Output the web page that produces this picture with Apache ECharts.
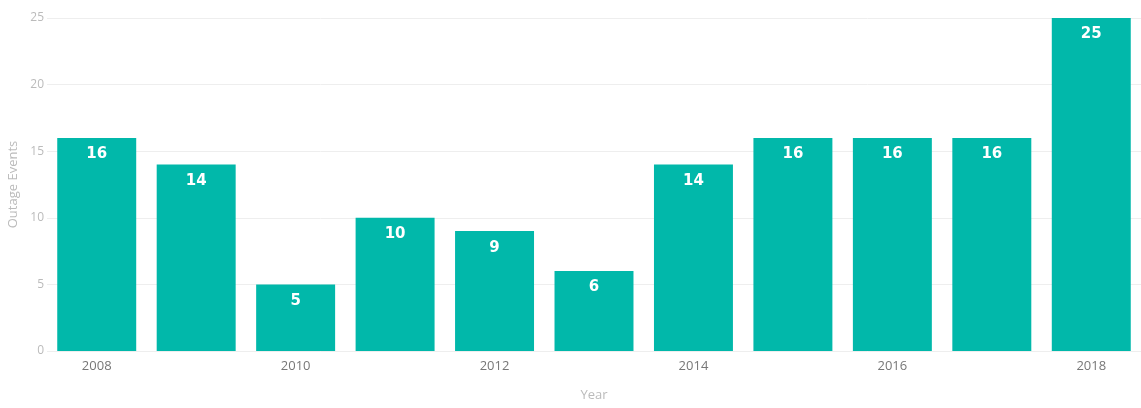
<!DOCTYPE html>
<html><head><meta charset="utf-8">
<script src="https://cdn.jsdelivr.net/npm/echarts@6/dist/echarts.min.js"></script>
<style>html,body{margin:0;padding:0;background:#fff}#c{width:1141px;height:408px}</style>
</head><body><div id="c"></div>
<script>
const years = ['2008','2009','2010','2011','2012','2013','2014','2015','2016','2017','2018'];
const outageEvents = [16,14,5,10,9,6,14,16,16,16,25];
const yTicks = [0,5,10,15,20,25];
const chart = echarts.init(document.getElementById('c'));
chart.setOption({
  animation:false,
  grid:{left:47,right:0,top:18,bottom:57,outerBoundsMode:'none',containLabel:false},
  xAxis:{type:'category',data:years,
    name:'Year',nameLocation:'middle',nameGap:38,
    nameTextStyle:{color:'#bbb',fontSize:13,fontFamily:'Open Sans'},
    axisLine:{show:false},axisTick:{show:false},
    axisLabel:{interval:1,color:'#777',fontSize:13,fontFamily:'Open Sans',margin:9}},
  yAxis:{type:'value',min:yTicks[0],max:yTicks[yTicks.length-1],interval:5,
    name:'Outage Events',nameLocation:'middle',nameGap:24,
    nameTextStyle:{color:'#bbb',fontSize:13,fontFamily:'Open Sans'},
    axisLabel:{color:'#bbb',fontSize:12,fontFamily:'Open Sans',margin:3},
    splitLine:{lineStyle:{color:'#eeeeee'}}},
  series:[{type:'bar',data:outageEvents,barCategoryGap:'20.6%',
    itemStyle:{color:'#01B8AA'},
    label:{show:true,position:'insideTop',distance:9,color:'#fff',fontWeight:'bold',fontSize:15,fontFamily:'DejaVu Sans'}}]
});
</script></body></html>
